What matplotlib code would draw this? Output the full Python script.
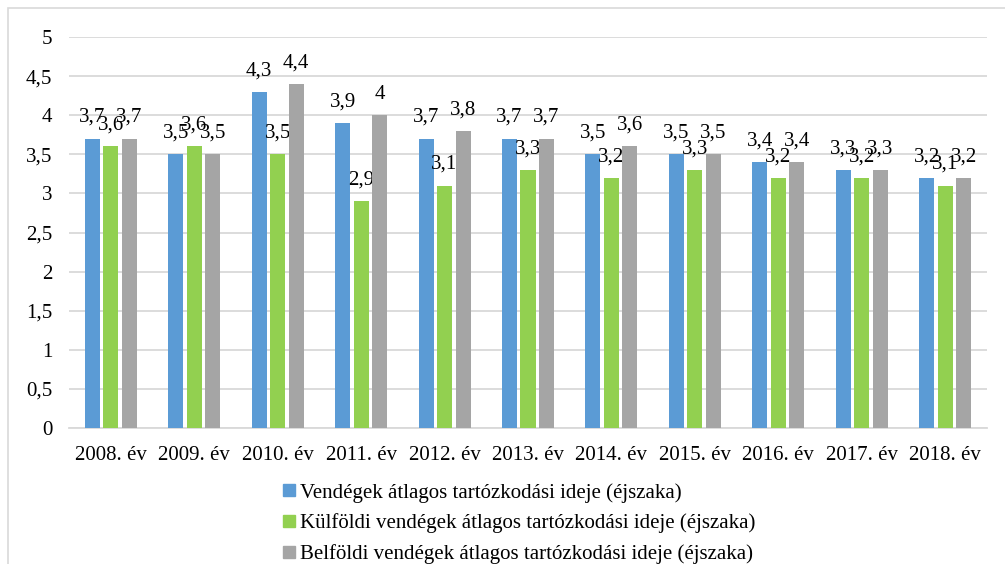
import matplotlib
matplotlib.use("Agg")
import matplotlib.pyplot as plt
import numpy as np
from matplotlib.lines import Line2D
from matplotlib.patches import Rectangle

YEARS = ["2008. év", "2009. év", "2010. év", "2011. év", "2012. év", "2013. év",
         "2014. év", "2015. év", "2016. év", "2017. év", "2018. év"]
OSSZES = [3.7, 3.5, 4.3, 3.9, 3.7, 3.7, 3.5, 3.5, 3.4, 3.3, 3.2]
KULFOLDI = [3.6, 3.6, 3.5, 2.9, 3.1, 3.3, 3.2, 3.3, 3.2, 3.2, 3.1]
BELFOLDI = [3.7, 3.5, 4.4, 4.0, 3.8, 3.7, 3.6, 3.5, 3.4, 3.3, 3.2]
SERIES = [
    ("Vendégek átlagos tartózkodási ideje (éjszaka)", OSSZES, "#5b9bd5"),
    ("Külföldi vendégek átlagos tartózkodási ideje (éjszaka)", KULFOLDI, "#92d050"),
    ("Belföldi vendégek átlagos tartózkodási ideje (éjszaka)", BELFOLDI, "#a5a5a5"),
]
YTICKS = [0, 0.5, 1, 1.5, 2, 2.5, 3, 3.5, 4, 4.5, 5]

plt.rcParams["font.family"] = ["Liberation Serif", "DejaVu Serif"]
FS = 15
GRID = "#d9d9d9"


def hu(v):
    s = f"{v:g}"
    return s.replace(".", ",")


fig = plt.figure(figsize=(10.05, 5.64), dpi=100)
ax = fig.add_axes([69 / 1005, 1 - 428 / 564, 918 / 1005, 391 / 564])

x = np.arange(len(YEARS))
width, step = 0.18, 0.222
for i, (name, vals, col) in enumerate(SERIES):
    pos = x + (i - 1) * step
    ax.bar(pos, vals, width, color=col, zorder=3, label=name)
    for px, v in zip(pos, vals):
        ax.annotate(hu(v), (px, v), xytext=(0, 12), textcoords="offset points",
                    ha="center", va="baseline", fontsize=FS, color="#000000")

ax.set_xlim(-0.5, len(YEARS) - 0.5)
ax.set_ylim(0, 5)
ax.set_yticks(YTICKS)
ax.set_yticklabels([hu(t) for t in YTICKS], fontsize=FS)
ax.set_xticks(x)
ax.set_xticklabels(YEARS, fontsize=FS)
ax.tick_params(axis="both", length=0)
ax.tick_params(axis="y", pad=12)
ax.tick_params(axis="x", pad=13)
ax.grid(axis="y", color=GRID, lw=1.3, zorder=0)
for side in ("top", "right", "left"):
    ax.spines[side].set_visible(False)
ax.spines["bottom"].set_color(GRID)
ax.spines["bottom"].set_linewidth(1.3)

handles = [Line2D([], [], ls="none", marker="s", ms=8, color=c, mec=c)
           for _, _, c in SERIES]
fig.legend(handles, [s[0] for s in SERIES], loc="upper left",
           bbox_to_anchor=(283 / 1005, 1 - 483 / 564), frameon=False,
           fontsize=FS, handlelength=0.6, handletextpad=0.2,
           labelspacing=0.52, borderaxespad=0, borderpad=0)

fig.patches.append(Rectangle((8 / 1005, -0.05), 1.1, 1 - 8 / 564 + 0.05,
                             transform=fig.transFigure, fill=False,
                             edgecolor=GRID, lw=1.2))

fig.savefig("out.png", dpi=100, facecolor="white")
